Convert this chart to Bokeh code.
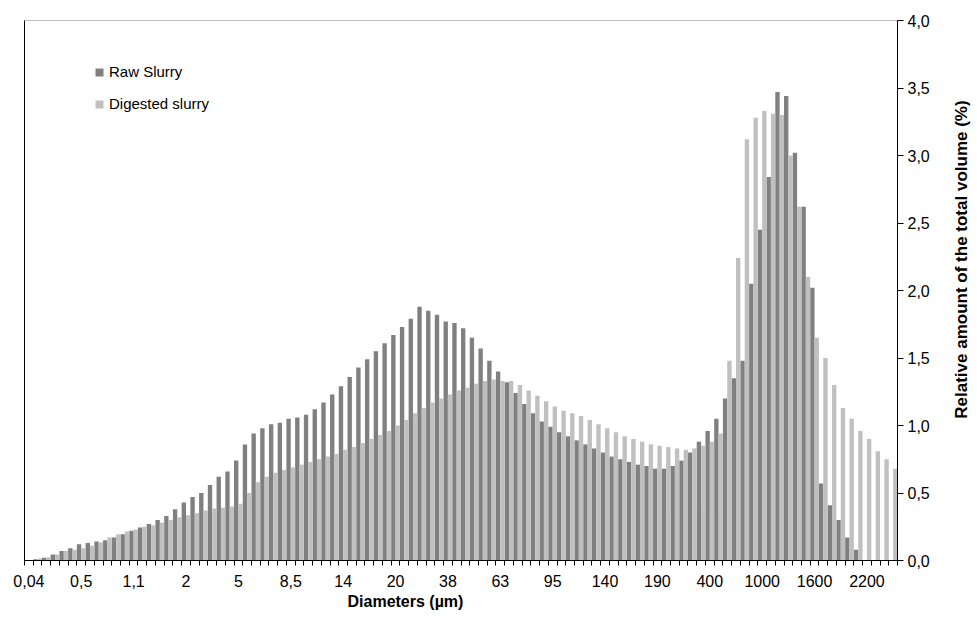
import math
from bokeh.plotting import figure
from bokeh.layouts import row
from bokeh.models import FixedTicker, Legend, LegendItem, Range1d, Title, LinearAxis
from bokeh.core.properties import value
from bokeh.embed import file_html
from bokeh.resources import INLINE

# Particle size distribution: relative volume (%) per diameter class
raw_slurry = [
    0.00, 0.01, 0.02, 0.045, 0.07, 0.09, 0.12, 0.13, 0.14, 0.15,
    0.17, 0.195, 0.22, 0.245, 0.27, 0.30, 0.33, 0.38, 0.43, 0.47,
    0.50, 0.56, 0.62, 0.66, 0.74, 0.86, 0.94, 0.98, 1.01, 1.02,
    1.05, 1.06, 1.08, 1.12, 1.17, 1.23, 1.29, 1.36, 1.43, 1.49,
    1.55, 1.61, 1.67, 1.73, 1.79, 1.88, 1.85, 1.82, 1.77, 1.76,
    1.72, 1.65, 1.57, 1.48, 1.40, 1.32, 1.24, 1.16, 1.09, 1.03,
    0.99, 0.95, 0.92, 0.89, 0.86, 0.83, 0.80, 0.77, 0.75, 0.73,
    0.71, 0.70, 0.68, 0.68, 0.70, 0.74, 0.80, 0.88, 0.96, 1.05,
    1.20, 1.35, 1.48, 2.05, 2.45, 2.84, 3.47, 3.44, 3.02, 2.62,
    2.02, 0.57, 0.41, 0.30, 0.17, 0.08, 0.00, 0.00, 0.00, 0.00,
]
digested_slurry = [
    0.00, 0.015, 0.025, 0.045, 0.07, 0.08, 0.09, 0.11, 0.135, 0.17,
    0.195, 0.215, 0.23, 0.25, 0.26, 0.28, 0.30, 0.32, 0.335, 0.35,
    0.37, 0.385, 0.39, 0.40, 0.42, 0.50, 0.58, 0.62, 0.65, 0.67,
    0.69, 0.71, 0.73, 0.75, 0.77, 0.79, 0.82, 0.84, 0.87, 0.90,
    0.93, 0.96, 1.00, 1.04, 1.09, 1.13, 1.17, 1.20, 1.23, 1.26,
    1.28, 1.31, 1.33, 1.34, 1.33, 1.33, 1.30, 1.26, 1.22, 1.18,
    1.14, 1.11, 1.09, 1.07, 1.04, 1.01, 0.98, 0.95, 0.92, 0.90,
    0.88, 0.86, 0.85, 0.84, 0.83, 0.82, 0.83, 0.85, 0.88, 0.94,
    1.48, 2.24, 3.12, 3.28, 3.33, 3.31, 3.30, 3.00, 2.62, 2.10,
    1.65, 1.50, 1.30, 1.13, 1.05, 0.96, 0.90, 0.81, 0.75, 0.68,
]
# Diameter labels (µm), shown on every sixth class
diameter_labels = ["0,04", "0,5", "1,1", "2", "5", "8,5", "14", "20", "38",
                   "63", "95", "140", "190", "400", "1000", "1600", "2200"]
label_step = 6
y_ticks = [0.0, 0.5, 1.0, 1.5, 2.0, 2.5, 3.0, 3.5, 4.0]

n = len(raw_slurry)
classes = list(range(n))
FONT = "Liberation Sans"

p = figure(width=940, height=628, output_backend="svg", toolbar_location=None,
           x_range=Range1d(-0.5, n - 0.5), y_range=Range1d(0, 4),
           y_axis_location="right",
           min_border_left=24, min_border_right=43,
           min_border_top=20, min_border_bottom=68)
p.xgrid.visible = False
p.ygrid.visible = False
p.outline_line_color = "#c0c0c0"
p.background_fill_color = "white"
p.border_fill_color = "white"

r_raw = p.vbar(x=[c - 0.25 for c in classes], top=raw_slurry, width=0.5,
               fill_color="#808080", line_color=None)
r_dig = p.vbar(x=[c + 0.25 for c in classes], top=digested_slurry, width=0.5,
               fill_color="#c0c0c0", line_color=None)

# x axis: labels centred on classes, tick marks on class boundaries
xa = p.xaxis[0]
major = [i * label_step for i in range(len(diameter_labels))]
xa.ticker = FixedTicker(ticks=major, minor_ticks=[c - 0.5 for c in range(n + 1)])
xa.major_label_overrides = {m: lab for m, lab in zip(major, diameter_labels)}
xa.major_tick_out = 0
xa.major_tick_in = 0
xa.minor_tick_out = 5
xa.minor_tick_in = 0
xa.axis_line_color = "black"
xa.minor_tick_line_color = "black"
xa.major_label_text_font = FONT
xa.major_label_text_font_size = "16px"
xa.major_label_text_color = "black"
xa.major_label_standoff = 9

ya = p.yaxis[0]
ya.ticker = FixedTicker(ticks=y_ticks)
ya.major_label_overrides = {t: f"{t:.1f}".replace(".", ",") for t in y_ticks}
ya.major_tick_out = 6
ya.major_tick_in = 0
ya.minor_tick_line_color = None
ya.axis_line_color = "black"
ya.major_tick_line_color = "black"
ya.major_label_text_font = FONT
ya.major_label_text_font_size = "16px"
ya.major_label_text_color = "black"
ya.major_label_standoff = 4

# plain black line on the left edge of the plot area
left_edge = LinearAxis(ticker=FixedTicker(ticks=[]), axis_line_color="black",
                       major_tick_line_color=None, minor_tick_line_color=None)
p.add_layout(left_edge, "left")

# x axis title, set a little left of the axis centre
p.add_layout(Title(text="Diameters (µm)", align="left", offset=323,
                   text_font=FONT, text_font_size="16px", text_font_style="bold",
                   text_color="black", standoff=2), "below")

legend = Legend(items=[LegendItem(label="Raw Slurry", renderers=[r_raw]),
                       LegendItem(label="Digested slurry", renderers=[r_dig])],
                location=(70, 448), padding=0, margin=0, spacing=15,
                glyph_width=10, glyph_height=10, label_standoff=5,
                label_text_font=FONT, label_text_font_size="15px",
                label_text_color="black",
                border_line_color=None, background_fill_alpha=0)
p.add_layout(legend)

# narrow strip on the right carrying the value-axis title, read bottom to top
strip_w, strip_h = 37, 628
t = figure(width=strip_w, height=strip_h, output_backend="svg", toolbar_location=None,
           x_range=Range1d(0, strip_w), y_range=Range1d(0, strip_h),
           x_axis_type=None, y_axis_type=None,
           min_border=0, min_border_left=0, min_border_right=0,
           min_border_top=0, min_border_bottom=0)
t.xgrid.visible = False
t.ygrid.visible = False
t.outline_line_color = None
t.background_fill_color = "white"
t.border_fill_color = "white"
t.text(x=[21], y=[350], text=["Relative amount of the total volume (%)"],
       angle=math.pi / 2, text_font=value(FONT), text_font_size="17px",
       text_font_style="bold", text_color="black",
       text_align="center", text_baseline="middle")

layout = row(p, t, spacing=0)
open("out.html", "w").write(file_html(layout, INLINE))
